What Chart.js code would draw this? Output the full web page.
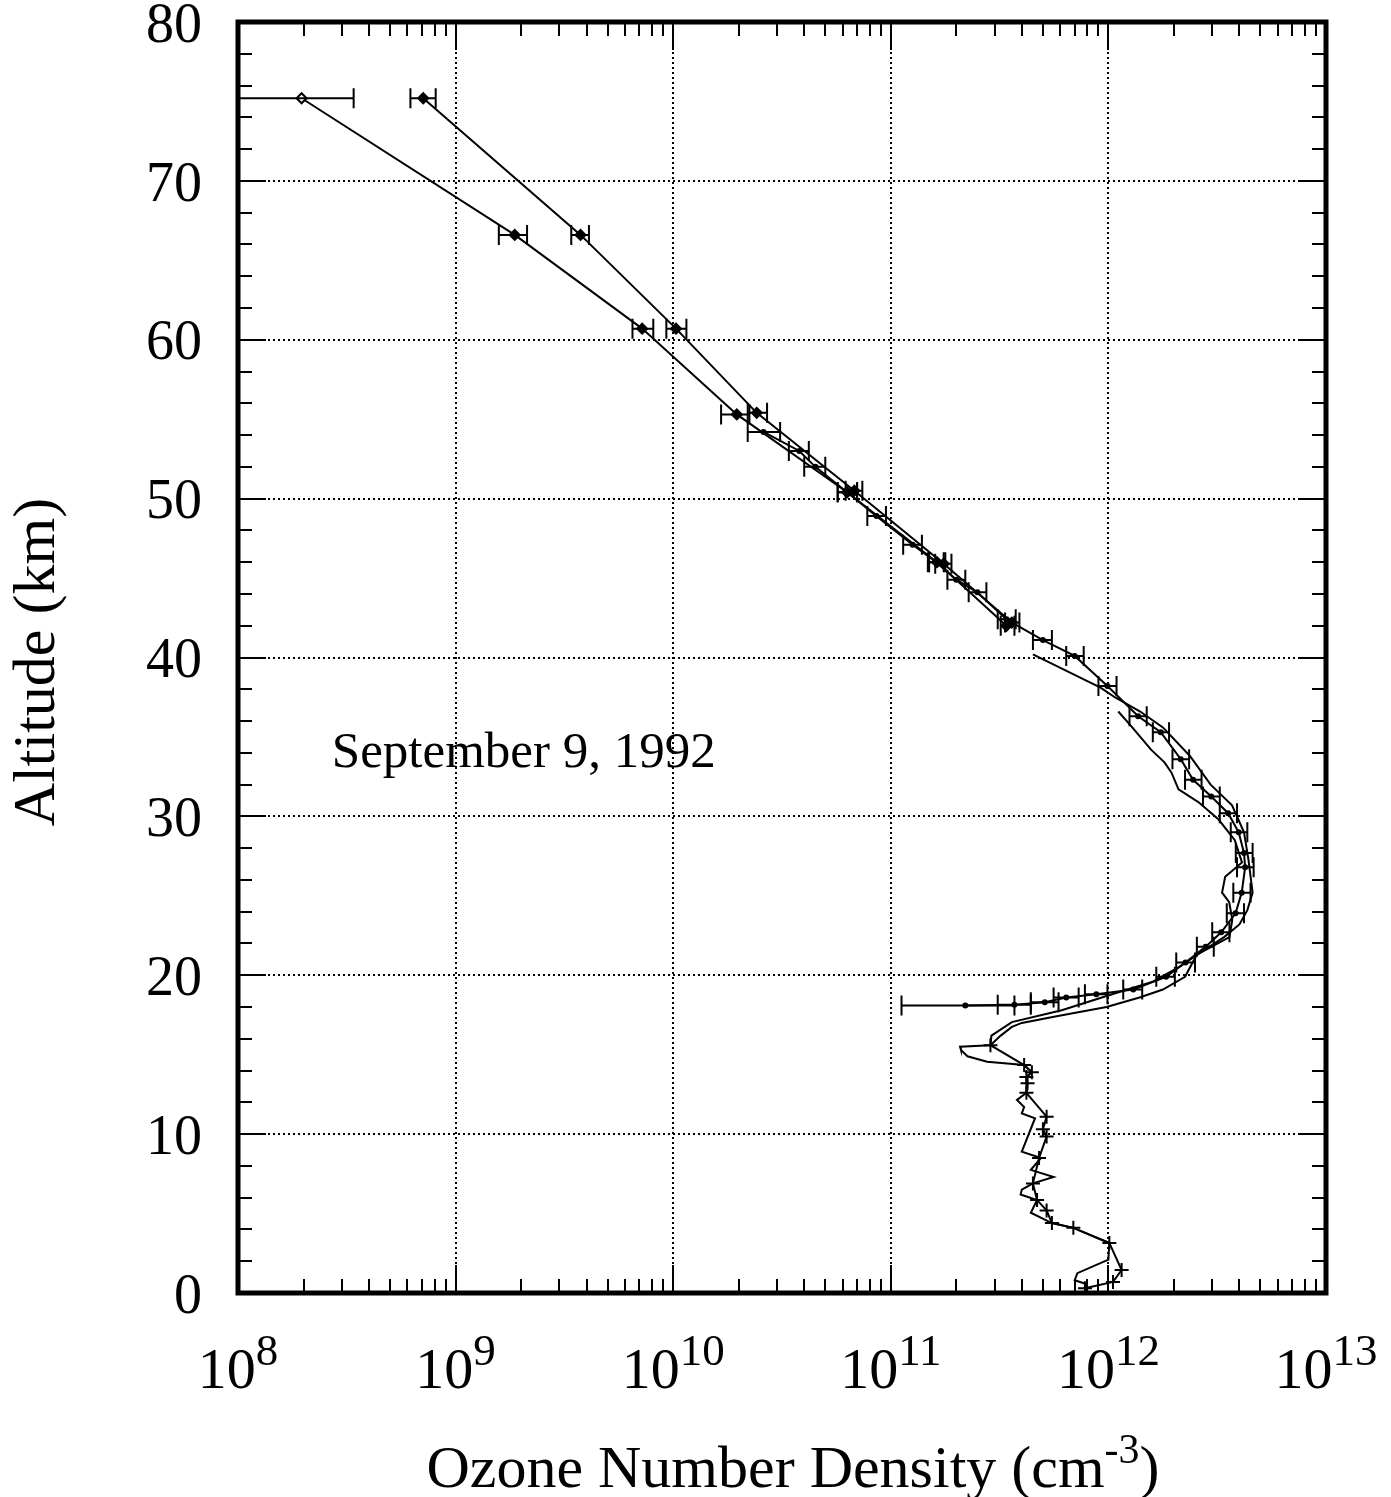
<!DOCTYPE html>
<html>
<head>
<meta charset="utf-8">
<script src="https://cdn.jsdelivr.net/npm/chart.js@4.4.0/dist/chart.umd.min.js"></script>
<style>
  html, body { margin: 0; padding: 0; background: #fff; }
  canvas { display: block; }
</style>
</head>
<body>
<canvas id="ozone" width="1391" height="1497"></canvas>
<script>
// Ozone profile - September 9, 1992

// upper track A (left one at the top)
var trackAAlt = [75.2, 66.6, 60.7, 55.3, 50.4, 46.0, 42.0];
var trackADens = [1.96e8, 1.87e9, 7.2e9, 1.96e10, 6.3e10, 1.63e11, 3.4e11];
var trackALow = [5e7, 1.58e9, 6.5e9, 1.66e10, 5.7e10, 1.5e11, 3.2e11];
var trackAHigh = [3.4e8, 2.13e9, 8.1e9, 2.24e10, 7.0e10, 1.75e11, 3.7e11];

// upper track B
var trackBAlt = [75.2, 66.6, 60.7, 55.4, 50.5, 45.9, 42.2];
var trackBDens = [7.1e8, 3.75e9, 1.03e10, 2.42e10, 6.8e10, 1.75e11, 3.6e11];
var trackBLow = [6.2e8, 3.4e9, 9.3e9, 2.2e10, 6.2e10, 1.6e11, 3.35e11];
var trackBHigh = [8.1e8, 4.1e9, 1.15e10, 2.7e10, 7.4e10, 1.9e11, 3.9e11];

// lidar profile with error bars
var lidarAlt = [54.2, 53.0, 52.0, 50.4, 48.9, 47.1, 46.0, 44.9, 44.1, 42.4, 41.1, 40.1, 38.2, 36.3, 35.3,
  33.6, 32.3, 31.25, 30.2, 29.0, 27.7, 26.8, 25.2, 23.9, 22.7, 21.8, 20.8, 19.9, 19.1, 18.8, 18.6, 18.3, 18.15, 18.1];
var lidarDens = [2.6e10, 3.8e10, 4.5e10, 6.3e10, 8.6e10, 1.26e11, 1.62e11, 2.0e11, 2.5e11, 3.4e11, 5.0e11, 7.0e11, 9.9e11, 1.37e12, 1.74e12,
  2.15e12, 2.45e12, 2.97e12, 3.55e12, 3.97e12, 4.2e12, 4.25e12, 4.1e12, 3.84e12, 3.3e12, 2.8e12, 2.26e12, 1.84e12, 1.30e12, 8.8e11, 6.4e11, 5.1e11, 3.7e11, 2.2e11];
var lidarLow = [2.2e10, 3.4e10, 4.0e10, 5.7e10, 7.8e10, 1.14e11, 1.48e11, 1.82e11, 2.28e11, 3.1e11, 4.5e11, 6.4e11, 9.0e11, 1.25e12, 1.6e12,
  1.97e12, 2.25e12, 2.72e12, 3.25e12, 3.65e12, 3.85e12, 3.9e12, 3.75e12, 3.5e12, 3.0e12, 2.55e12, 2.05e12, 1.66e12, 1.17e12, 7.8e11, 5.6e11, 4.4e11, 3.1e11, 1.12e11];
var lidarHigh = [3.1e10, 4.2e10, 5.0e10, 7.0e10, 9.5e10, 1.39e11, 1.78e11, 2.2e11, 2.75e11, 3.75e11, 5.5e11, 7.7e11, 1.09e12, 1.5e12, 1.9e12,
  2.35e12, 2.68e12, 3.25e12, 3.9e12, 4.35e12, 4.6e12, 4.65e12, 4.5e12, 4.2e12, 3.6e12, 3.05e12, 2.5e12, 2.02e12, 1.43e12, 9.9e11, 7.3e11, 5.9e11, 4.4e11, 3.7e11];

// balloon sonde 1 (from 40 km)
var sonde1Alt = [40.2, 38.1, 37.5, 36.6, 35.6, 33.8, 32.0, 30.7, 29.0, 27.3, 25.2, 24.1, 23.2, 22.4, 21.5, 20.5, 19.6, 18.8, 17.8, 17.05,
  16.2, 15.6, 14.35, 13.9, 13.6, 13.2, 12.6, 11.1, 10.3, 9.85, 8.5, 6.9, 5.85, 5.2, 4.4, 4.1, 3.15, 1.45, 0.7, 0.3];
var sonde1Dens = [4.5e11, 9.2e11, 1.07e12, 1.40e12, 1.78e12, 2.37e12, 2.95e12, 3.7e12, 4.2e12, 4.4e12, 4.6e12, 4.35e12, 4.0e12, 3.4e12, 2.7e12, 2.1e12, 1.6e12, 1.04e12, 6.1e11, 3.6e11,
  2.9e11, 2.87e11, 4.1e11, 4.45e11, 4.2e11, 4.25e11, 4.2e11, 5.2e11, 5.0e11, 5.2e11, 4.8e11, 4.5e11, 4.7e11, 5.2e11, 5.5e11, 6.9e11, 1.01e12, 1.15e12, 1.05e12, 7.8e11];

// balloon sonde 2 (from 36.6 km)
var sonde2Alt = [36.6, 35.7, 34.2, 33.4, 32.75, 31.7, 30.9, 29.8, 28.5, 27.1, 26.2, 25.2, 24.6, 23.5, 22.4, 21.3, 19.9, 19.1, 18.6, 18.0,
  17.4, 17.0, 16.75, 16.2, 15.6, 15.5, 15.3, 14.9, 14.55, 14.35, 13.9, 13.6, 12.6, 12.15, 11.7, 11.3, 11.0, 8.9, 8.5, 7.75, 7.3,
  6.9, 6.5, 6.2, 5.85, 5.05, 4.4, 4.1, 3.15, 2.1, 1.25, 0.8, 0.6, 0.2];
var sonde2Dens = [1.11e12, 1.27e12, 1.57e12, 1.81e12, 1.95e12, 2.1e12, 2.59e12, 3.21e12, 3.81e12, 4.11e12, 3.44e12, 3.33e12, 3.59e12, 3.71e12, 3.6e12, 2.55e12, 2.25e12, 1.78e12, 1.39e12, 9.8e11,
  5.7e11, 4.0e11, 3.6e11, 3.2e11, 2.87e11, 2.08e11, 2.1e11, 2.25e11, 2.77e11, 4.1e11, 4.45e11, 4.2e11, 4.2e11, 3.8e11, 4.1e11, 4.0e11, 4.6e11, 4.0e11, 4.9e11, 4.4e11, 5.6e11,
  4.5e11, 4.0e11, 3.95e11, 4.7e11, 4.4e11, 5.5e11, 6.9e11, 1.01e12, 1.0e12, 7.2e11, 7.0e11, 7.8e11, 8.0e11];

var decades = [8, 9, 10, 11, 12, 13];
var annotation = { text: 'September 9, 1992', x: 2.7e8, y: 33.1 };

var serif = "'Liberation Serif', 'Times New Roman', serif";

function pts(alt, dens) {
  return alt.map(function (a, i) { return { x: dens[i], y: a }; });
}

var errorSets = [
  { alt: trackAAlt, lo: trackALow, hi: trackAHigh, cap: 10 },
  { alt: trackBAlt, lo: trackBLow, hi: trackBHigh, cap: 10 },
  { alt: lidarAlt, lo: lidarLow, hi: lidarHigh, cap: 10 }
];

var framePlugin = {
  id: 'framePlugin',
  beforeDraw: function (chart) {
    var c = chart.ctx;
    c.save();
    c.fillStyle = '#fff';
    c.fillRect(0, 0, chart.width, chart.height);
    c.restore();
  },
  beforeDatasetsDraw: function (chart) {
    var c = chart.ctx, a = chart.chartArea;
    var xs = chart.scales.x, ys = chart.scales.y;
    c.save();
    c.strokeStyle = '#000';
    c.lineWidth = 2;
    c.setLineDash([2, 3]);
    decades.slice(1, -1).forEach(function (e) {
      var x = Math.round(xs.getPixelForValue(Math.pow(10, e)));
      c.beginPath(); c.moveTo(x, a.top); c.lineTo(x, a.bottom); c.stroke();
    });
    for (var v = 10; v < 80; v += 10) {
      var y = Math.round(ys.getPixelForValue(v));
      c.beginPath(); c.moveTo(a.left, y); c.lineTo(a.right, y); c.stroke();
    }
    c.restore();
  },
  afterDatasetsDraw: function (chart) {
    var c = chart.ctx, a = chart.chartArea;
    var xs = chart.scales.x, ys = chart.scales.y;
    c.save();
    c.beginPath();
    c.rect(a.left, a.top, a.right - a.left, a.bottom - a.top);
    c.clip();
    c.strokeStyle = '#000';
    c.lineWidth = 2;
    errorSets.forEach(function (s) {
      s.alt.forEach(function (alt, i) {
        var y = ys.getPixelForValue(alt);
        var x1 = xs.getPixelForValue(s.lo[i]);
        var x2 = xs.getPixelForValue(s.hi[i]);
        c.beginPath();
        c.moveTo(x1, y); c.lineTo(x2, y);
        c.moveTo(x1, y - s.cap); c.lineTo(x1, y + s.cap);
        c.moveTo(x2, y - s.cap); c.lineTo(x2, y + s.cap);
        c.stroke();
      });
    });
    c.restore();

    // ticks inside the frame
    c.save();
    c.strokeStyle = '#000';
    c.lineWidth = 2;
    for (var e = 8; e < 13; e++) {
      for (var m = 1; m < 10; m++) {
        var x = Math.round(xs.getPixelForValue(m * Math.pow(10, e)));
        var len = m === 1 ? 28 : 14;
        c.beginPath();
        c.moveTo(x, a.bottom); c.lineTo(x, a.bottom - len);
        c.moveTo(x, a.top); c.lineTo(x, a.top + len);
        c.stroke();
      }
    }
    for (var v = 0; v <= 80; v += 2) {
      var y = Math.round(ys.getPixelForValue(v));
      var l2 = v % 10 === 0 ? 28 : 14;
      c.beginPath();
      c.moveTo(a.left, y); c.lineTo(a.left + l2, y);
      c.moveTo(a.right, y); c.lineTo(a.right - l2, y);
      c.stroke();
    }
    c.lineWidth = 5;
    c.strokeRect(a.left, a.top, a.right - a.left, a.bottom - a.top);
    c.restore();
  },
  afterDraw: function (chart) {
    var c = chart.ctx, a = chart.chartArea;
    var xs = chart.scales.x, ys = chart.scales.y;
    c.save();
    c.fillStyle = '#000';
    c.textBaseline = 'alphabetic';
    c.textAlign = 'left';
    // x tick labels 10^n
    decades.forEach(function (e) {
      var x = xs.getPixelForValue(Math.pow(10, e));
      c.font = '58px ' + serif;
      var w1 = c.measureText('10').width;
      c.font = '45px ' + serif;
      var w2 = c.measureText(String(e)).width;
      var x0 = x - (w1 + w2) / 2;
      c.font = '58px ' + serif;
      c.fillText('10', x0, 1388);
      c.font = '45px ' + serif;
      c.fillText(String(e), x0 + w1, 1365);
    });

    // x title with superscript
    var t1 = 'Ozone Number Density (cm', sup = '-3', t2 = ')';
    c.font = '60px ' + serif;
    var a1 = c.measureText(t1).width, a3 = c.measureText(t2).width;
    c.font = '42px ' + serif;
    var a2 = c.measureText(sup).width;
    var sx = 793 - (a1 + a2 + a3) / 2;
    c.font = '60px ' + serif;
    c.fillText(t1, sx, 1487);
    c.font = '42px ' + serif;
    c.fillText(sup, sx + a1, 1463);
    c.font = '60px ' + serif;
    c.fillText(t2, sx + a1 + a2, 1487);

    // y title
    c.save();
    c.translate(38, 662);
    c.rotate(-Math.PI / 2);
    c.textAlign = 'center';
    c.textBaseline = 'middle';
    c.font = '60px ' + serif;
    c.fillText('Altitude (km)', 0, 0);
    c.restore();

    // date annotation
    c.font = '51px ' + serif;
    c.fillText(annotation.text, xs.getPixelForValue(annotation.x), ys.getPixelForValue(annotation.y));
    c.restore();
  }
};

var lineBase = {
  showLine: true,
  borderColor: '#000',
  backgroundColor: '#000',
  borderWidth: 2,
  tension: 0,
  fill: false
};

var ozone = new Chart(document.getElementById('ozone').getContext('2d'), {
  type: 'scatter',
  data: {
    datasets: [
      Object.assign({}, lineBase, {
        label: 'Track A',
        data: pts(trackAAlt, trackADens),
        pointStyle: 'rectRot',
        pointRadius: 5,
        pointBorderColor: '#000',
        pointBorderWidth: 2,
        pointBackgroundColor: function (ctx) { return ctx.dataIndex === 0 ? '#fff' : '#000'; }
      }),
      Object.assign({}, lineBase, {
        label: 'Track B',
        data: pts(trackBAlt, trackBDens),
        pointStyle: 'rectRot',
        pointRadius: 5
      }),
      Object.assign({}, lineBase, {
        label: 'Lidar',
        data: pts(lidarAlt, lidarDens),
        pointRadius: 2
      }),
      Object.assign({}, lineBase, {
        label: 'Sonde 1',
        data: pts(sonde1Alt, sonde1Dens),
        pointStyle: 'cross',
        pointBorderColor: '#000',
        pointBorderWidth: 2,
        pointRadius: function (ctx) { return ctx.raw && ctx.raw.y < 16 ? 7 : 0; }
      }),
      Object.assign({}, lineBase, {
        label: 'Sonde 2',
        data: pts(sonde2Alt, sonde2Dens),
        pointRadius: 0
      })
    ]
  },
  options: {
    responsive: false,
    animation: false,
    devicePixelRatio: 1,
    layout: { padding: { top: 22, right: 65, left: 0, bottom: 0 } },
    plugins: {
      legend: { display: false },
      tooltip: { enabled: false }
    },
    scales: {
      x: {
        type: 'logarithmic',
        min: 1e8,
        max: 1e13,
        ticks: { display: false },
        grid: { display: false, drawTicks: false },
        border: { display: false },
        afterFit: function (s) {
          s.height = 204;
          s.paddingLeft = 0; s.paddingRight = 0;
        }
      },
      y: {
        min: 0,
        max: 80,
        ticks: {
          stepSize: 10,
          color: '#000',
          padding: 36,
          labelOffset: 5,
          font: { family: serif, size: 56 }
        },
        grid: { display: false, drawTicks: false },
        border: { display: false },
        afterFit: function (s) {
          s.width = 238;
          s.paddingTop = 0; s.paddingBottom = 0;
        }
      }
    }
  },
  plugins: [framePlugin]
});
</script>
</body>
</html>
